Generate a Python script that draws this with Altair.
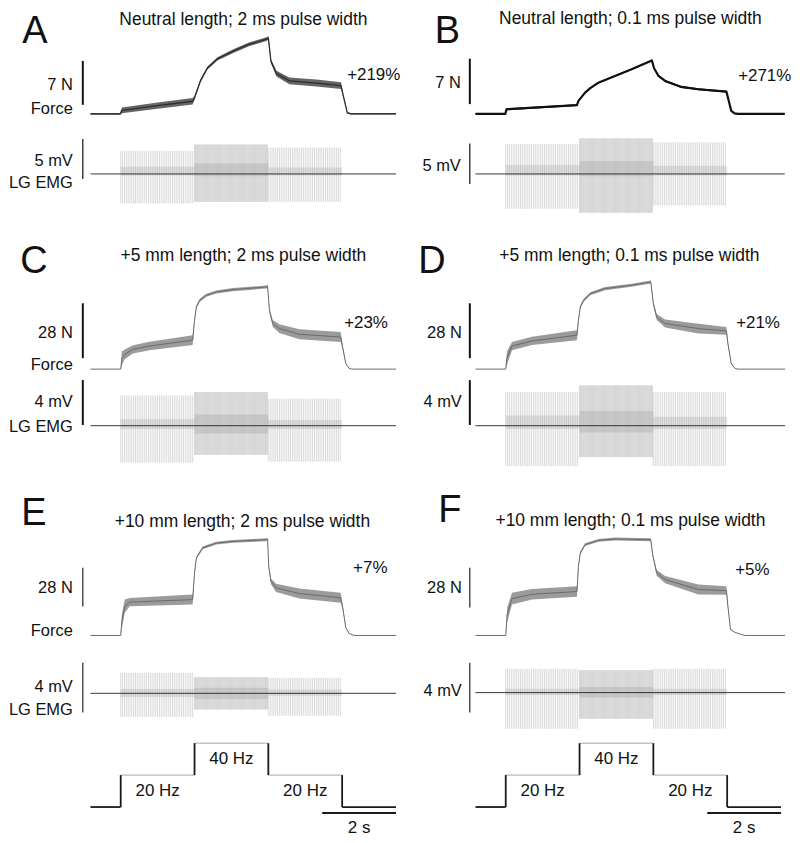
import altair as alt
import pandas as pd

# ================= DATA =================
# stimulation protocol: three 2-s trains
SEG_START = [0.0, 2.0, 4.0]
SEG_END = [2.0, 4.0, 6.0]
SEG_FREQ = [20, 40, 20]
STIM_TRACE = [-0.82, 7.46]          # extent of the stimulus trace (s)
TIME_BAR_S = 2                       # time scale bar (s)

TITLES = {
    "A": "Neutral length; 2 ms pulse width",
    "B": "Neutral length; 0.1 ms pulse width",
    "C": "+5 mm length; 2 ms pulse width",
    "D": "+5 mm length; 0.1 ms pulse width",
    "E": "+10 mm length; 2 ms pulse width",
    "F": "+10 mm length; 0.1 ms pulse width",
}
PERCENT = {"A": "+219%", "B": "+271%", "C": "+23%", "D": "+21%", "E": "+7%", "F": "+5%"}
FORCE_BAR_N = {"A": 7, "B": 7, "C": 28, "D": 28, "E": 28, "F": 28}
EMG_BAR_MV = {"A": 5, "B": 5, "C": 4, "D": 4, "E": 4, "F": 4}

# force traces: time (s), force above passive (N), ripple half-amplitude (N)
A_TIME = [-0.82, -0.01, 0.03, 1.0, 1.95, 2.0, 2.16, 2.35, 2.62, 3.05, 3.49, 3.95, 4.0, 4.07, 4.22, 4.57, 5.3, 5.97, 6.03, 6.14, 6.24, 7.46]
A_FORCE = [0, 0, 0.55, 1.3, 2.0, 2.55, 5.25, 7.3, 8.75, 10.0, 11.1, 11.9, 12.1, 8.4, 6.4, 5.25, 4.9, 4.5, 2.9, 0.16, 0, 0]
A_RIPPLE = [0.14, 0.14, 0.45, 0.5, 0.5, 0.3, 0.25, 0.25, 0.25, 0.3, 0.3, 0.3, 0.3, 0.3, 0.45, 0.55, 0.55, 0.55, 0.2, 0.12, 0.12, 0.12]

B_TIME = [-0.82, -0.01, 0.02, 1.93, 1.97, 2.15, 2.29, 2.51, 2.96, 3.41, 3.96, 4.02, 4.14, 4.32, 4.76, 5.22, 5.98, 6.02, 6.11, 6.2, 6.3, 7.56]
B_FORCE = [0, 0, 0.7, 1.33, 1.99, 3.26, 3.94, 4.79, 5.82, 6.85, 8.2, 7.0, 5.82, 5.05, 4.13, 3.78, 3.41, 2.5, 0.46, 0.05, 0, 0]
B_RIPPLE = [0.08, 0.08, 0.15, 0.15, 0.12, 0.12, 0.12, 0.12, 0.12, 0.12, 0.12, 0.12, 0.15, 0.15, 0.15, 0.15, 0.15, 0.1, 0.08, 0.08, 0.08, 0.08]

C_TIME = [-0.82, -0.01, 0.0, 0.03, 0.11, 0.33, 0.78, 1.95, 2.0, 2.05, 2.14, 2.32, 2.59, 3.04, 3.94, 3.98, 4.03, 4.12, 4.3, 4.84, 5.96, 6.01, 6.1, 6.19, 6.27, 7.46]
C_FORCE = [0, 0, 0, 5.5, 7.5, 10.1, 11.8, 14.8, 24.9, 31.7, 35.1, 37.7, 39.4, 40.6, 41.9, 42.3, 30.0, 23.3, 20.7, 17.8, 16.4, 11.4, 2.9, 0.36, 0, 0]
C_RIPPLE = [0, 0, 0, 3.5, 2.5, 2.1, 2.2, 2.5, 0.8, 0.8, 0.8, 0.8, 0.8, 0.8, 0.8, 0.8, 1.0, 1.8, 2.2, 2.5, 2.5, 1.0, 0.3, 0, 0, 0]

D_TIME = [-0.82, -0.01, 0.0, 0.03, 0.17, 0.71, 1.93, 1.97, 2.02, 2.11, 2.29, 2.69, 3.41, 3.93, 4.0, 4.09, 4.32, 5.22, 5.98, 6.02, 6.11, 6.21, 6.3, 7.57]
D_FORCE = [0, 0, 0, 5.5, 11.8, 14.4, 17.3, 24.9, 31.7, 35.1, 38.5, 41.1, 42.8, 44.5, 33.5, 26.6, 23.3, 20.7, 19.5, 13.1, 2.9, 0.36, 0, 0]
D_RIPPLE = [0, 0, 0, 3.5, 2.1, 2.1, 2.5, 0.8, 0.8, 0.8, 0.8, 0.8, 0.8, 0.8, 1.0, 1.5, 2.0, 2.5, 2.0, 1.0, 0.3, 0, 0, 0]

E_TIME = [-0.82, -0.01, 0.0, 0.03, 0.11, 0.24, 1.95, 2.0, 2.05, 2.22, 2.59, 3.04, 3.94, 3.98, 4.01, 4.07, 4.21, 4.84, 5.96, 6.01, 6.1, 6.19, 6.32, 7.46]
E_FORCE = [0, 0, 0, 10, 21, 24, 25.8, 45, 55.8, 63, 66.5, 67.7, 68.9, 69.3, 49.7, 39, 34.2, 30.2, 27.1, 21, 5.5, 1.4, 0, 0]
E_RIPPLE = [0, 0, 0, 5, 4.8, 3.0, 3.6, 1, 1, 1, 1, 1, 1, 1, 1, 2, 3, 3.6, 3.6, 1.5, 0.5, 0, 0, 0]

F_TIME = [-0.82, -0.01, 0.0, 0.04, 0.17, 0.71, 1.93, 1.97, 2.02, 2.15, 2.51, 2.96, 3.93, 3.98, 4.09, 4.32, 5.22, 5.98, 6.02, 6.09, 6.2, 6.38, 6.48, 7.57]
F_FORCE = [0, 0, 0, 14.7, 25.8, 28.9, 30.8, 48.5, 57.9, 63.7, 66.7, 67.7, 67.2, 56.7, 43.9, 39.2, 32.2, 31.5, 20.5, 4.2, 2.3, 0.7, 0, 0]
F_RIPPLE = [0, 0, 0, 5, 4.1, 3.7, 3.7, 1, 1, 1, 1, 1, 1, 1, 2, 2.5, 3.5, 3, 1, 0.3, 0, 0, 0, 0]

# EMG envelope per stimulus train (mV): spike tops / bottoms, dense core band
A_EMG_TOP = [2.9, 3.7, 3.3];   A_EMG_BOT = [-3.7, -3.5, -3.5]
A_CORE_TOP = [0.9, 1.3, 0.8];  A_CORE_BOT = [-0.2, -0.3, -0.2]
B_EMG_TOP = [3.7, 4.4, 3.9];   B_EMG_BOT = [-4.3, -4.8, -3.9]
B_CORE_TOP = [1.1, 1.6, 1.0];  B_CORE_BOT = [-0.2, -0.3, -0.2]
C_EMG_TOP = [2.7, 3.0, 2.4];   C_EMG_BOT = [-3.3, -2.6, -3.2]
C_CORE_TOP = [0.6, 1.0, 0.5];  C_CORE_BOT = [-0.3, -0.7, -0.3]
D_EMG_TOP = [3.0, 3.6, 3.0];   D_EMG_BOT = [-3.6, -2.8, -3.6]
D_CORE_TOP = [0.9, 1.3, 0.8];  D_CORE_BOT = [-0.3, -0.6, -0.3]
E_EMG_TOP = [1.65, 1.3, 1.25]; E_EMG_BOT = [-1.9, -1.3, -1.8]
E_CORE_TOP = [0.35, 0.45, 0.3]; E_CORE_BOT = [-0.3, -0.45, -0.2]
F_EMG_TOP = [1.9, 1.8, 1.9];   F_EMG_BOT = [-2.9, -2.1, -2.9]
F_CORE_TOP = [0.3, 0.45, 0.3]; F_CORE_BOT = [-0.2, -0.4, -0.2]

PANELS = {
    "A": (A_TIME, A_FORCE, A_RIPPLE, A_EMG_TOP, A_EMG_BOT, A_CORE_TOP, A_CORE_BOT),
    "B": (B_TIME, B_FORCE, B_RIPPLE, B_EMG_TOP, B_EMG_BOT, B_CORE_TOP, B_CORE_BOT),
    "C": (C_TIME, C_FORCE, C_RIPPLE, C_EMG_TOP, C_EMG_BOT, C_CORE_TOP, C_CORE_BOT),
    "D": (D_TIME, D_FORCE, D_RIPPLE, D_EMG_TOP, D_EMG_BOT, D_CORE_TOP, D_CORE_BOT),
    "E": (E_TIME, E_FORCE, E_RIPPLE, E_EMG_TOP, E_EMG_BOT, E_CORE_TOP, E_CORE_BOT),
    "F": (F_TIME, F_FORCE, F_RIPPLE, F_EMG_TOP, F_EMG_BOT, F_CORE_TOP, F_CORE_BOT),
}

# ================= LAYOUT (page pixels) =================
FONT = "Liberation Sans"
PX_PER_S = 37.0
COLS = [dict(left=8, width=394, zero_px=121), dict(left=431, width=359, zero_px=507)]
ROWS = [dict(top=8, height=230), dict(top=238, height=250), dict(top=488, height=247), dict(top=735, height=105)]
LETTER_SIZE = 38
LETTER_MIN_Y = 4.5   # keeps the glyph box of the top letters inside the drawing

LAYOUT = {
    "A": dict(col=0, row=0, letter=(35, 9.5), title=(244, 19), f_base=113, f_bar=(60, 104),
              e_base=173.3, e_bar=(138.3, 178.3), bar_x=83, lab_x=73, f_lab=84, f_name=108,
              e_lab=160, e_name=182, pct=(348, 74), bar_w=(2.0, 1.2)),
    "B": dict(col=1, row=0, letter=(448.5, 9.5), title=(632, 18), f_base=113, f_bar=(57.7, 103.3),
              e_base=173.3, e_bar=(142.7, 183.3), bar_x=471, lab_x=462, f_lab=82, f_name=None,
              e_lab=165, e_name=None, pct=(740, 75), bar_w=(2.0, 1.2)),
    "C": dict(col=0, row=1, letter=(34, 242), title=(244, 256), f_base=369, f_bar=(303, 358),
              e_base=425.7, e_bar=(380, 425), bar_x=83, lab_x=73, f_lab=333, f_name=365,
              e_lab=402, e_name=427, pct=(345, 323), bar_w=(2.0, 2.0)),
    "D": dict(col=1, row=1, letter=(433, 242), title=(631, 256), f_base=369, f_bar=(303, 358),
              e_base=425.7, e_bar=(380, 425), bar_x=471, lab_x=463, f_lab=333, f_name=None,
              e_lab=402, e_name=None, pct=(738, 323), bar_w=(2.0, 2.0)),
    "E": dict(col=0, row=2, letter=(34, 498), title=(243, 522), f_base=636, f_bar=(568, 607),
              e_base=694, e_bar=(663.3, 713.3), bar_x=83, lab_x=73, f_lab=588, f_name=632,
              e_lab=688, e_name=711, pct=(354, 568), bar_w=(1.1, 1.1)),
    "F": dict(col=1, row=2, letter=(451, 494), title=(632, 521), f_base=636, f_bar=(568, 608),
              e_base=693.3, e_bar=(663.3, 713.3), bar_x=471, lab_x=463, f_lab=588, f_name=None,
              e_lab=692, e_name=None, pct=(737, 570), bar_w=(1.1, 1.1)),
}
STYLE = {
    "A": dict(band="#4a4a4a", band_op=0.85, line="#2e2e2e", lw=1.3),
    "B": dict(band="#111111", band_op=1.0, line="#111111", lw=2.2),
}
for _k in "CDEF":
    STYLE[_k] = dict(band="#8a8a8a", band_op=0.85, line="#6a6a6a", lw=1.0)

STIM_BASE_PX = 808
STIM_PX_PER_HZ = 1.6
STIM_BAR_PX = 814
STIM_BAR_LABEL_PX = 829


def x_domain(c):
    col = COLS[c]
    return [(col["left"] - col["zero_px"]) / PX_PER_S,
            (col["left"] + col["width"] - col["zero_px"]) / PX_PER_S]


def lin_domain(base_px, ppu, r):
    row = ROWS[r]
    return [-(row["top"] + row["height"] - base_px) / ppu, (base_px - row["top"]) / ppu]


def qx(field, dom):
    return alt.X(field, type="quantitative", scale=alt.Scale(domain=dom, nice=False, zero=False), axis=None)


def qy(field, dom):
    return alt.Y(field, type="quantitative", scale=alt.Scale(domain=dom, nice=False, zero=False), axis=None)


def text_layer(rows, c, H, size, align, baseline, color="#111111"):
    """rows: (text, page_x, panel-relative y px); x goes through the time scale."""
    col = COLS[c]
    df = pd.DataFrame([(t, (px - col["zero_px"]) / PX_PER_S, py) for t, px, py in rows],
                      columns=["txt", "tx", "py"])
    return alt.Chart(df).mark_text(font=FONT, fontSize=size, align=align, baseline=baseline, color=color).encode(
        x=qx("tx", x_domain(c)),
        y=alt.Y("py", type="quantitative", scale=alt.Scale(domain=[0, H], nice=False, zero=False, reverse=True), axis=None),
        text="txt:N",
    )


def panel(key):
    t, f, rp, etop, ebot, ctop, cbot = PANELS[key]
    L, S = LAYOUT[key], STYLE[key]
    c, r = L["col"], L["row"]
    col, row = COLS[c], ROWS[r]
    W, H = col["width"], row["height"]
    xd = x_domain(c)
    fppu = (L["f_bar"][1] - L["f_bar"][0]) / FORCE_BAR_N[key]
    eppu = (L["e_bar"][1] - L["e_bar"][0]) / EMG_BAR_MV[key]
    fd = lin_domain(L["f_base"], fppu, r)
    ed = lin_domain(L["e_base"], eppu, r)

    force = pd.DataFrame({"t": t, "f": f, "r": rp})
    band = alt.Chart(force).transform_calculate(lo="datum.f - datum.r", hi="datum.f + datum.r").mark_area(
        color=S["band"], opacity=S["band_op"]).encode(x=qx("t", xd), y=qy("lo", fd), y2="hi:Q")
    line = alt.Chart(force).mark_line(color=S["line"], strokeWidth=S["lw"], strokeJoin="round").encode(
        x=qx("t", xd), y=qy("f", fd))

    pulses = []
    for s0, s1, fq, top, bot in zip(SEG_START, SEG_END, SEG_FREQ, etop, ebot):
        n = int(round((s1 - s0) * fq))
        for k in range(n):
            pulses.append((s0 + k / fq, bot, top))
    pdf = pd.DataFrame(pulses, columns=["t", "bot", "top"])
    spikes = alt.Chart(pdf).mark_rule(color="#9a9a9a", strokeWidth=0.55, opacity=0.7).encode(
        x=qx("t", xd), y=qy("bot", ed), y2="top:Q")
    core = alt.Chart(pd.DataFrame({"t0": SEG_START, "t1": SEG_END, "lo": cbot, "hi": ctop})).mark_rect(
        color="#555555", opacity=0.14).encode(x=qx("t0", xd), x2="t1:Q", y=qy("lo", ed), y2="hi:Q")
    base = alt.Chart(pd.DataFrame({"t0": [t[0]], "t1": [t[-1]], "v": [0]})).mark_rule(
        color="#222222", strokeWidth=0.9).encode(x=qx("t0", xd), x2="t1:Q", y=qy("v", ed))

    bar_t = (L["bar_x"] - col["zero_px"]) / PX_PER_S
    fv0 = (L["f_base"] - L["f_bar"][1]) / fppu
    ev0 = (L["e_base"] - L["e_bar"][1]) / eppu
    fbar = alt.Chart(pd.DataFrame({"t": [bar_t], "v0": [fv0], "v1": [fv0 + FORCE_BAR_N[key]]})).mark_rule(
        color="#111111", strokeWidth=L["bar_w"][0]).encode(x=qx("t", xd), y=qy("v0", fd), y2="v1:Q")
    ebar = alt.Chart(pd.DataFrame({"t": [bar_t], "v0": [ev0], "v1": [ev0 + EMG_BAR_MV[key]]})).mark_rule(
        color="#111111", strokeWidth=L["bar_w"][1]).encode(x=qx("t", xd), y=qy("v0", ed), y2="v1:Q")

    oy = row["top"]
    letter_y = max(LETTER_MIN_Y, L["letter"][1] - 0.074 * LETTER_SIZE - oy)
    texts = [
        text_layer([(key, L["letter"][0], letter_y)], c, H, LETTER_SIZE, "center", "top"),
        text_layer([(TITLES[key], L["title"][0], L["title"][1] - oy)], c, H, 17.5, "center", "middle"),
        text_layer([(PERCENT[key], L["pct"][0], L["pct"][1] - oy)], c, H, 17, "left", "middle"),
    ]
    labels = [(f"{FORCE_BAR_N[key]} N", L["lab_x"], L["f_lab"] - oy),
              (f"{EMG_BAR_MV[key]} mV", L["lab_x"], L["e_lab"] - oy)]
    if L["f_name"] is not None:
        labels.append(("Force", L["lab_x"], L["f_name"] - oy))
    if L["e_name"] is not None:
        labels.append(("LG EMG", L["lab_x"], L["e_name"] - oy))
    texts.append(text_layer(labels, c, H, 16.5, "right", "middle"))

    return alt.layer(spikes, core, base, band, line, fbar, ebar, *texts).resolve_scale(
        y="independent").properties(width=W, height=H)


def stim(c):
    r = 3
    col, row = COLS[c], ROWS[r]
    W, H = col["width"], row["height"]
    xd = x_domain(c)
    yd = lin_domain(STIM_BASE_PX, STIM_PX_PER_HZ, r)

    dark_h = pd.DataFrame({"t0": [STIM_TRACE[0], SEG_END[-1]], "t1": [SEG_START[0], STIM_TRACE[1]], "v": [0, 0]})
    light_h = pd.DataFrame({"t0": SEG_START, "t1": SEG_END, "v": SEG_FREQ})
    edges = pd.DataFrame({"t": SEG_START + [SEG_END[-1]], "a": [0] + SEG_FREQ, "b": SEG_FREQ + [0]})
    labels = pd.DataFrame({"t": [(a + b) / 2 for a, b in zip(SEG_START, SEG_END)], "v": SEG_FREQ,
                           "txt": [f"{fq} Hz" for fq in SEG_FREQ]})
    bar_v = (STIM_BASE_PX - STIM_BAR_PX) / STIM_PX_PER_HZ
    lab_v = (STIM_BASE_PX - STIM_BAR_LABEL_PX) / STIM_PX_PER_HZ
    tbar = pd.DataFrame({"t0": [STIM_TRACE[1] - TIME_BAR_S], "t1": [STIM_TRACE[1]], "v": [bar_v],
                         "tm": [STIM_TRACE[1] - TIME_BAR_S / 2], "lv": [lab_v], "txt": [f"{TIME_BAR_S} s"]})

    l1 = alt.Chart(light_h).mark_rule(color="#a8a8a8", strokeWidth=1.0).encode(
        x=qx("t0", xd), x2="t1:Q", y=qy("v", yd))
    l2 = alt.Chart(dark_h).mark_rule(color="#1a1a1a", strokeWidth=1.8).encode(
        x=qx("t0", xd), x2="t1:Q", y=qy("v", yd))
    l3 = alt.Chart(edges).mark_rule(color="#1a1a1a", strokeWidth=1.8).encode(
        x=qx("t", xd), y=qy("a", yd), y2="b:Q")
    l4 = alt.Chart(labels).mark_text(font=FONT, fontSize=17, color="#111111", baseline="middle", dy=16).encode(
        x=qx("t", xd), y=qy("v", yd), text="txt:N")
    l5 = alt.Chart(tbar).mark_rule(color="#1a1a1a", strokeWidth=1.8).encode(
        x=qx("t0", xd), x2="t1:Q", y=qy("v", yd))
    l6 = alt.Chart(tbar).mark_text(font=FONT, fontSize=17, color="#111111", baseline="middle").encode(
        x=qx("tm", xd), y=qy("lv", yd), text="txt:N")
    return alt.layer(l1, l2, l3, l4, l5, l6).properties(width=W, height=H)


chart = alt.concat(
    panel("A"), panel("B"), panel("C"), panel("D"), panel("E"), panel("F"), stim(0), stim(1),
    columns=2,
    spacing={"row": 0, "column": COLS[1]["left"] - COLS[0]["left"] - COLS[0]["width"]},
    bounds="flush",
).properties(padding=0, background="white").configure_view(stroke=None)

chart.save("out.html", embed_options={"renderer": "svg", "actions": False})
